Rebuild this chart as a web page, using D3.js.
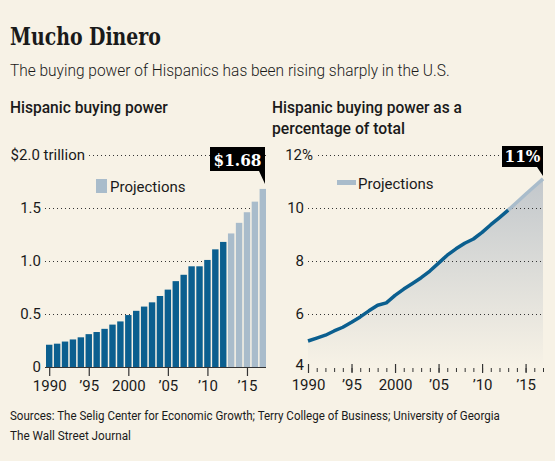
<!DOCTYPE html>
<html>
<head>
<meta charset="utf-8">
<script src="https://cdn.jsdelivr.net/npm/d3@7"></script>
<style>
  body { margin: 0; background: #f7f2e6; }
  svg text { fill: #1a1a1a; }
  .sans { font-family: Roboto, "Noto Sans", sans-serif; }
  .grid line { stroke: #333; stroke-dasharray: 1 3; stroke-width: 1; }
</style>
</head>
<body>
<div class="chart"></div>
<script>
// years and values
var years = d3.range(1990, 2018);
var power = [0.21, 0.22, 0.24, 0.26, 0.28, 0.31, 0.33, 0.36, 0.40, 0.43,
             0.49, 0.53, 0.57, 0.61, 0.67, 0.73, 0.81, 0.87, 0.95, 0.95,
             1.01, 1.11, 1.18, 1.26, 1.36, 1.46, 1.56, 1.68];
var share = [4.98, 5.09, 5.2, 5.36, 5.5, 5.69, 5.89, 6.12, 6.33, 6.42,
             6.7, 6.94, 7.15, 7.37, 7.62, 7.92, 8.22, 8.46, 8.67, 8.83,
             9.08, 9.37, 9.64, 9.92, 10.22, 10.52, 10.81, 11.1];
var firstProjection = 2013;
var powerTicks = [0, 0.5, 1.0, 1.5, 2.0];
var shareTicks = [4, 6, 8, 10, 12];
var yearTicks = [1990, 1995, 2000, 2005, 2010, 2015];

var dark = "#0b5f8f", light = "#a9bccb", bg = "#f7f2e6";

var width = 555, height = 461;
var svg = d3.select(".chart").append("svg")
    .attr("width", width)
    .attr("height", height)
    .style("background", bg);

function yearLabel(d) {
    return (d % 100 == 0 || d == 1990) ? String(d) : "\u2019" + String(d).slice(2);
}

// narrow a text to the width it has in the picture
function label(x, y, txt, w) {
    var t = svg.append("text").attr("class", "sans").text(txt);
    t.attr("transform", "translate(" + x + "," + y + ")");
    t.fit = function() {
        var k = w / t.node().getComputedTextLength();
        t.attr("transform", "translate(" + x + "," + y + ") scale(" + k + ",1)");
        return t;
    };
    return t;
}

// Headline
label(10, 45, "Mucho Dinero", 151)
    .attr("class", null)
    .style("font-family", "'DejaVu Serif', serif")
    .style("font-stretch", "condensed")
    .style("font-weight", "bold")
    .style("font-size", "25px").fit();
label(10, 76, "The buying power of Hispanics has been rising sharply in the U.S.", 440)
    .style("font-size", "17px").style("font-weight", 300).fit();

label(10, 113, "Hispanic buying power", 158)
    .style("font-size", "16px").style("font-weight", 500).fit();
label(272, 113, "Hispanic buying power as a", 190)
    .style("font-size", "16px").style("font-weight", 500).fit();
label(272, 134, "percentage of total", 133)
    .style("font-size", "16px").style("font-weight", 500).fit();

// ---- Left: bar chart
var x1 = d3.scaleBand().domain(years).range([46, 266]).paddingInner(0.19).paddingOuter(0);
var y1 = d3.scaleLinear().domain([0, 2]).range([367, 155]);

var g1 = svg.append("g");
g1.append("g").attr("class", "grid")
    .selectAll("line").data(powerTicks.filter(function(d){ return d > 0; }))
    .join("line")
    .attr("x1", function(d){ return d == 2 ? 89 : 45; })
    .attr("x2", 266)
    .attr("y1", function(d){ return y1(d) + 0.5; })
    .attr("y2", function(d){ return y1(d) + 0.5; });

g1.selectAll("text.ylab").data(powerTicks).join("text")
    .attr("class", "ylab sans")
    .attr("x", function(d){ return d == 2 ? 85 : 41; })
    .attr("y", function(d){ return y1(d) + 5; })
    .attr("text-anchor", "end")
    .style("font-size", "15px")
    .text(function(d){ return d == 0 ? "0" : d == 2 ? "$2.0 trillion" : d3.format(".1f")(d); });

g1.selectAll("rect.bar").data(years).join("rect")
    .attr("class", "bar")
    .attr("x", function(d){ return x1(d); })
    .attr("width", x1.bandwidth())
    .attr("y", function(d, i){ return y1(power[i]); })
    .attr("height", function(d, i){ return y1(0) - y1(power[i]); })
    .attr("fill", function(d){ return d >= firstProjection ? light : dark; });

var xAxis1 = d3.axisBottom(d3.scaleLinear().domain([1990, 2017])
        .range([x1(1990) + x1.bandwidth()/2, x1(2017) + x1.bandwidth()/2]))
    .tickValues(yearTicks).tickSize(9).tickPadding(4).tickFormat(yearLabel);
var ax1 = g1.append("g").attr("transform", "translate(0,367)").call(xAxis1);
ax1.select(".domain").attr("d", "M45,0.5H266").attr("stroke", "#333");
ax1.selectAll(".tick line").attr("stroke", "#333").attr("stroke-width", 1.2);
ax1.selectAll(".tick text").attr("class", "sans").style("font-size", "15px").attr("fill", "#1a1a1a");

// legend
g1.append("rect").attr("x", 96).attr("y", 179).attr("width", 11).attr("height", 14).attr("fill", light);
g1.append("text").attr("class", "sans").attr("x", 110).attr("y", 192)
    .style("font-size", "15px").text("Projections");

// call-out
function callout(g, x0, x1_, yTop, yBot, tipY, label) {
    g.append("path")
        .attr("d", "M" + x0 + "," + yTop + "H" + x1_ + "V" + tipY + "L" + (x1_ - 6) + "," + yBot + "H" + x0 + "Z")
        .attr("fill", "#000");
    g.append("text")
        .attr("x", (x0 + x1_) / 2).attr("y", yBot - 5)
        .attr("text-anchor", "middle")
        .style("font-family", "'DejaVu Serif', serif")
        .style("font-stretch", "condensed")
        .style("font-weight", "bold")
        .style("font-size", "17px")
        .style("fill", "#fff")
        .text(label);
}
callout(g1, 210, x1(2017) + x1.bandwidth() - 1, 147, 171, 184, "$" + power[power.length - 1]);

// ---- Right: line chart
var x2 = d3.scaleLinear().domain([1990, 2017]).range([308, 543]);
var y2 = d3.scaleLinear().domain([4, 12]).range([367, 155]);

var g2 = svg.append("g");
var grad = svg.append("defs").append("linearGradient")
    .attr("id", "shade").attr("gradientUnits", "userSpaceOnUse")
    .attr("x1", 0).attr("x2", 0).attr("y1", y2(11)).attr("y2", y2(4));
grad.append("stop").attr("offset", 0).attr("stop-color", "#c3c8cc");
grad.append("stop").attr("offset", 1).attr("stop-color", bg);

var pts = years.map(function(d, i){ return [d, share[i]]; });
g2.append("path")
    .attr("d", d3.area().x(function(d){ return x2(d[0]); })
        .y0(y2(4)).y1(function(d){ return y2(d[1]); })(pts))
    .attr("fill", "url(#shade)");

g2.append("g").attr("class", "grid")
    .selectAll("line").data(shareTicks.filter(function(d){ return d > 4; }))
    .join("line")
    .attr("x1", function(d){ return d == 12 ? 318 : 308; })
    .attr("x2", 543)
    .attr("y1", function(d){ return y2(d) + 0.5; })
    .attr("y2", function(d){ return y2(d) + 0.5; });

g2.selectAll("text.ylab").data(shareTicks).join("text")
    .attr("class", "ylab sans")
    .attr("x", function(d){ return d == 12 ? 313 : 304; })
    .attr("y", function(d){ return d == 4 ? y2(d) + 3 : y2(d) + 5; })
    .attr("text-anchor", "end")
    .style("font-size", "15px")
    .text(function(d){ return d == 12 ? "12%" : d; });

var line = d3.line().x(function(d){ return x2(d[0]); }).y(function(d){ return y2(d[1]); });
g2.append("path")
    .attr("d", line(pts.filter(function(d){ return d[0] >= firstProjection; })))
    .attr("fill", "none").attr("stroke", light).attr("stroke-width", 3.5);
g2.append("path")
    .attr("d", line(pts.filter(function(d){ return d[0] <= firstProjection; })))
    .attr("fill", "none").attr("stroke", dark).attr("stroke-width", 3.5)
    .attr("stroke-linejoin", "round");

var minor = d3.axisBottom(x2).tickValues(years).tickSize(4).tickFormat("");
var mx = g2.append("g").attr("transform", "translate(0,368)").call(minor);
mx.select(".domain").remove();
mx.selectAll(".tick line").attr("stroke", "#333");
var major = d3.axisBottom(x2).tickValues(yearTicks).tickSize(9).tickPadding(3).tickFormat(yearLabel);
var jx = g2.append("g").attr("transform", "translate(0,364)").call(major);
jx.select(".domain").remove();
jx.selectAll(".tick line").attr("stroke", "#333").attr("stroke-width", 1.2);
jx.selectAll(".tick text").attr("class", "sans").style("font-size", "15px").attr("fill", "#1a1a1a")
    .attr("dy", "0.71em").attr("y", 15);

// legend
g2.append("line").attr("x1", 337).attr("x2", 356).attr("y1", 182.5).attr("y2", 182.5)
    .attr("stroke", light).attr("stroke-width", 5);
g2.append("text").attr("class", "sans").attr("x", 358).attr("y", 189)
    .style("font-size", "15px").text("Projections");

callout(g2, 502, 543, 146, 167, 176, Math.round(share[share.length - 1]) + "%");

// Footer
label(10, 420, "Sources: The Selig Center for Economic Growth; Terry College of Business; University of Georgia", 490)
    .style("font-size", "13px").fit();
label(10, 440, "The Wall Street Journal", 121)
    .style("font-size", "13px").fit();
</script>
</body>
</html>
